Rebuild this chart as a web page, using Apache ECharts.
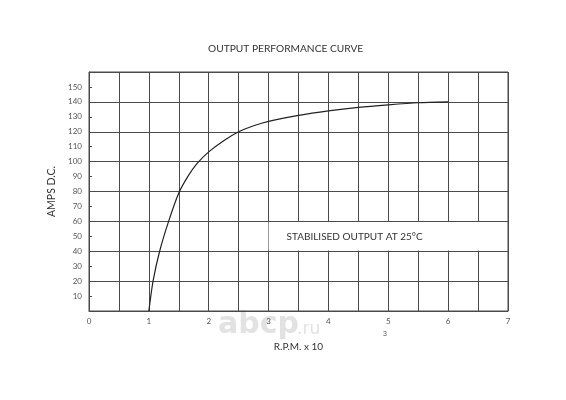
<!DOCTYPE html>
<html>
<head>
<meta charset="utf-8">
<script src="https://cdn.jsdelivr.net/npm/echarts@6/dist/echarts.min.js"></script>
<style>html,body{margin:0;padding:0;background:#fff}#c{width:566px;height:400px}</style>
</head>
<body>
<div id="c"></div>
<script>
const titleText = 'OUTPUT PERFORMANCE CURVE';
const xName = 'R.P.M. x 10';
const xExponent = '3';
const yName = 'AMPS D.C.';
const noteText = 'STABILISED OUTPUT AT 25°C';
const rpm  = [1, 1.07, 1.18, 1.33, 1.5, 1.65, 1.8, 2.0, 2.25, 2.5, 2.75, 3.0, 3.5, 4.0, 4.5, 5.0, 5.5, 6.0];
const amps = [0, 20,   40,   60,   79,  90,   98.5, 106.5, 114, 120, 124, 127, 131, 134, 136.3, 138, 139.4, 140];
const noteBox = [[3, 40.5], [6.98, 59.5]];

const chart = echarts.init(document.getElementById('c'), null, {renderer: 'canvas'});
const font = 'Lato, "Noto Sans", sans-serif';
const grid = '#4a4a4a';
chart.setOption({
  animation: false,
  backgroundColor: '#fff',
  title: {
    text: titleText, left: 203, top: 39,
    textStyle: {fontSize: 10.2, fontWeight: 'normal', color: '#333', fontFamily: font}
  },
  grid: {left: 89, right: 58, top: 72, bottom: 89, show: true, borderColor: grid, borderWidth: 1, containLabel: false},
  xAxis: {
    type: 'value', min: 0, max: 7, interval: 0.5,
    axisLine: {show: true, lineStyle: {color: grid}},
    axisTick: {show: false},
    axisLabel: {formatter: v => Number.isInteger(v) ? String(v) : '', fontSize: 8, color: '#555', margin: 6, fontFamily: font},
    splitLine: {show: true, lineStyle: {color: grid, width: 1}},
    name: xName, nameLocation: 'middle', nameGap: 31,
    nameTextStyle: {fontSize: 10, color: '#333', fontFamily: font}
  },
  yAxis: [{
    type: 'value', min: 0, max: 160, interval: 10,
    axisLine: {show: true, lineStyle: {color: grid}},
    axisTick: {show: true, inside: true, length: 3, lineStyle: {color: grid}},
    axisLabel: {formatter: v => (v === 0 || v === 160) ? '' : String(v), fontSize: 8, color: '#555', margin: 7, fontFamily: font},
    splitLine: {show: false},
    name: yName, nameLocation: 'middle', nameGap: 28, nameRotate: 90,
    nameTextStyle: {fontSize: 10.5, color: '#333', fontFamily: font}
  }, {
    type: 'value', min: 0, max: 160, interval: 20, position: 'left',
    axisLine: {show: false}, axisTick: {show: false}, axisLabel: {show: false},
    splitLine: {show: true, lineStyle: {color: grid, width: 1}}
  }],
  series: [{
    type: 'line', yAxisIndex: 0,
    data: rpm.map((x, i) => [x, amps[i]]),
    smooth: 0.25, showSymbol: false,
    lineStyle: {color: '#222', width: 1.2},
    markArea: {
      silent: true,
      itemStyle: {color: '#fff'},
      label: {show: true, position: 'insideLeft', distance: 18, fontSize: 10, color: '#333', fontFamily: font},
      data: [[{name: noteText, coord: noteBox[0]}, {coord: noteBox[1]}]]
    }
  }],
  graphic: [
    {type: 'text', left: 383, top: 331, z: 10, style: {text: xExponent, fontSize: 7, fill: '#555', font: '7px ' + font}},
    {type: 'text', left: 218, top: 310, z: -1, style: {text: 'abcp', fill: '#e2e2e2', font: 'bold 30px "DejaVu Sans", sans-serif'}},
    {type: 'text', left: 297, top: 321, z: -1, style: {text: '.ru', fill: '#e2e2e2', font: '17px "DejaVu Sans", sans-serif'}}
  ]
});
</script>
</body>
</html>
